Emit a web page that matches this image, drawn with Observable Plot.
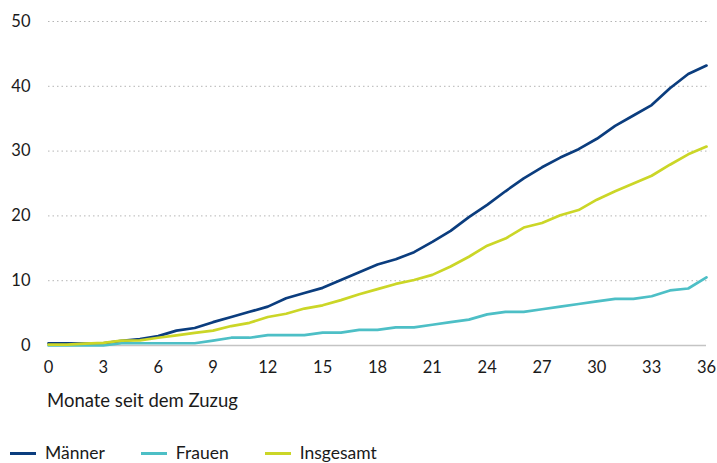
<!DOCTYPE html>
<html>
<head>
<meta charset="utf-8">
<script src="https://cdn.jsdelivr.net/npm/d3@7"></script>
<script src="https://cdn.jsdelivr.net/npm/@observablehq/plot@0.6"></script>
<style>
  body { margin: 0; background: #fff; font-family: Lato, "Noto Sans", sans-serif; }
  #chart { width: 717px; height: 463px; position: relative; }
  .xlabel { position: absolute; left: 47px; top: 389px; font-size: 18.5px; color: #1a1a1a; line-height: 22px; }
  .legend { position: absolute; left: 10px; top: 442px; display: flex; font-size: 17.5px; color: #1a1a1a; line-height: 22px; }
  .item { display: flex; align-items: center; margin-right: 36px; }
  .sw { width: 26px; height: 3px; margin-right: 9px; }
</style>
</head>
<body>
<div id="chart"></div>
<script>
const months = d3.range(0, 37);
const maenner = [0.35,0.35,0.3,0.35,0.7,1.0,1.45,2.3,2.7,3.6,4.4,5.2,6.0,7.3,8.1,8.9,10.1,11.3,12.5,13.3,14.4,16.0,17.7,19.8,21.7,23.8,25.8,27.5,29.0,30.3,31.9,33.9,35.5,37.1,39.7,41.9,43.2];
const frauen = [0,0,0,0,0.35,0.35,0.35,0.35,0.35,0.75,1.2,1.2,1.6,1.6,1.6,2.0,2.0,2.4,2.4,2.8,2.8,3.2,3.6,4.0,4.8,5.2,5.2,5.6,6.0,6.4,6.8,7.2,7.2,7.6,8.5,8.8,10.5];
const insgesamt = [0.15,0.15,0.3,0.4,0.75,0.8,1.2,1.55,1.95,2.3,3.0,3.5,4.4,4.9,5.7,6.2,7.0,7.9,8.7,9.5,10.1,10.9,12.2,13.7,15.4,16.5,18.2,18.9,20.1,20.9,22.5,23.8,25.0,26.2,27.9,29.5,30.7];
const seriesNames = ["Männer", "Frauen", "Insgesamt"];
const colors = ["#0b3d7e", "#4dbfc6", "#cbd627"];
const xTicks = [0,3,6,9,12,15,18,21,24,27,30,33,36];
const yTicks = [0,10,20,30,40,50];
const xLabel = "Monate seit dem Zuzug";

const data = [];
[maenner, frauen, insgesamt].forEach((arr, si) => {
  arr.forEach((v, i) => data.push({series: seriesNames[si], month: months[i], value: v}));
});

const plot = Plot.plot({
  width: 717,
  height: 380,
  marginLeft: 48,
  marginRight: 11,
  marginTop: 21,
  marginBottom: 35,
  style: { fontFamily: "Lato, 'Noto Sans', sans-serif", fontSize: "16.5px", color: "#1a1a1a", background: "#fff" },
  x: { domain: [0, 36], ticks: xTicks, label: null },
  y: { domain: [0, 50], ticks: yTicks, label: null },
  color: { domain: seriesNames, range: colors },
  marks: [
    Plot.gridY(yTicks.filter(d => d > 0), { stroke: "#b5b5b5", strokeOpacity: 1, strokeDasharray: "1.5,3", strokeWidth: 1, x1: 0, x2: 36.2 }),
    Plot.ruleY([0], { stroke: "#c4c4c4", strokeWidth: 1.5 }),
    Plot.axisY({ ticks: yTicks, tickSize: 0, tickPadding: 18, label: null, fontSize: 16.5 }),
    Plot.axisX({ ticks: xTicks, tickSize: 0, tickPadding: 16, fontSize: 16.5, label: null }),
    Plot.line(data, { x: "month", y: "value", z: "series", stroke: "series", strokeWidth: 2.7, strokeLinejoin: "round" })
  ]
});
const chart = document.getElementById("chart");
chart.appendChild(plot);

const xl = document.createElement("div");
xl.className = "xlabel";
xl.textContent = xLabel;
chart.appendChild(xl);

const legend = document.createElement("div");
legend.className = "legend";
seriesNames.forEach((n, i) => {
  const it = document.createElement("div");
  it.className = "item";
  const sw = document.createElement("span");
  sw.className = "sw";
  sw.style.background = colors[i];
  const t = document.createElement("span");
  t.textContent = n;
  it.appendChild(sw); it.appendChild(t);
  legend.appendChild(it);
});
chart.appendChild(legend);
</script>
</body>
</html>
